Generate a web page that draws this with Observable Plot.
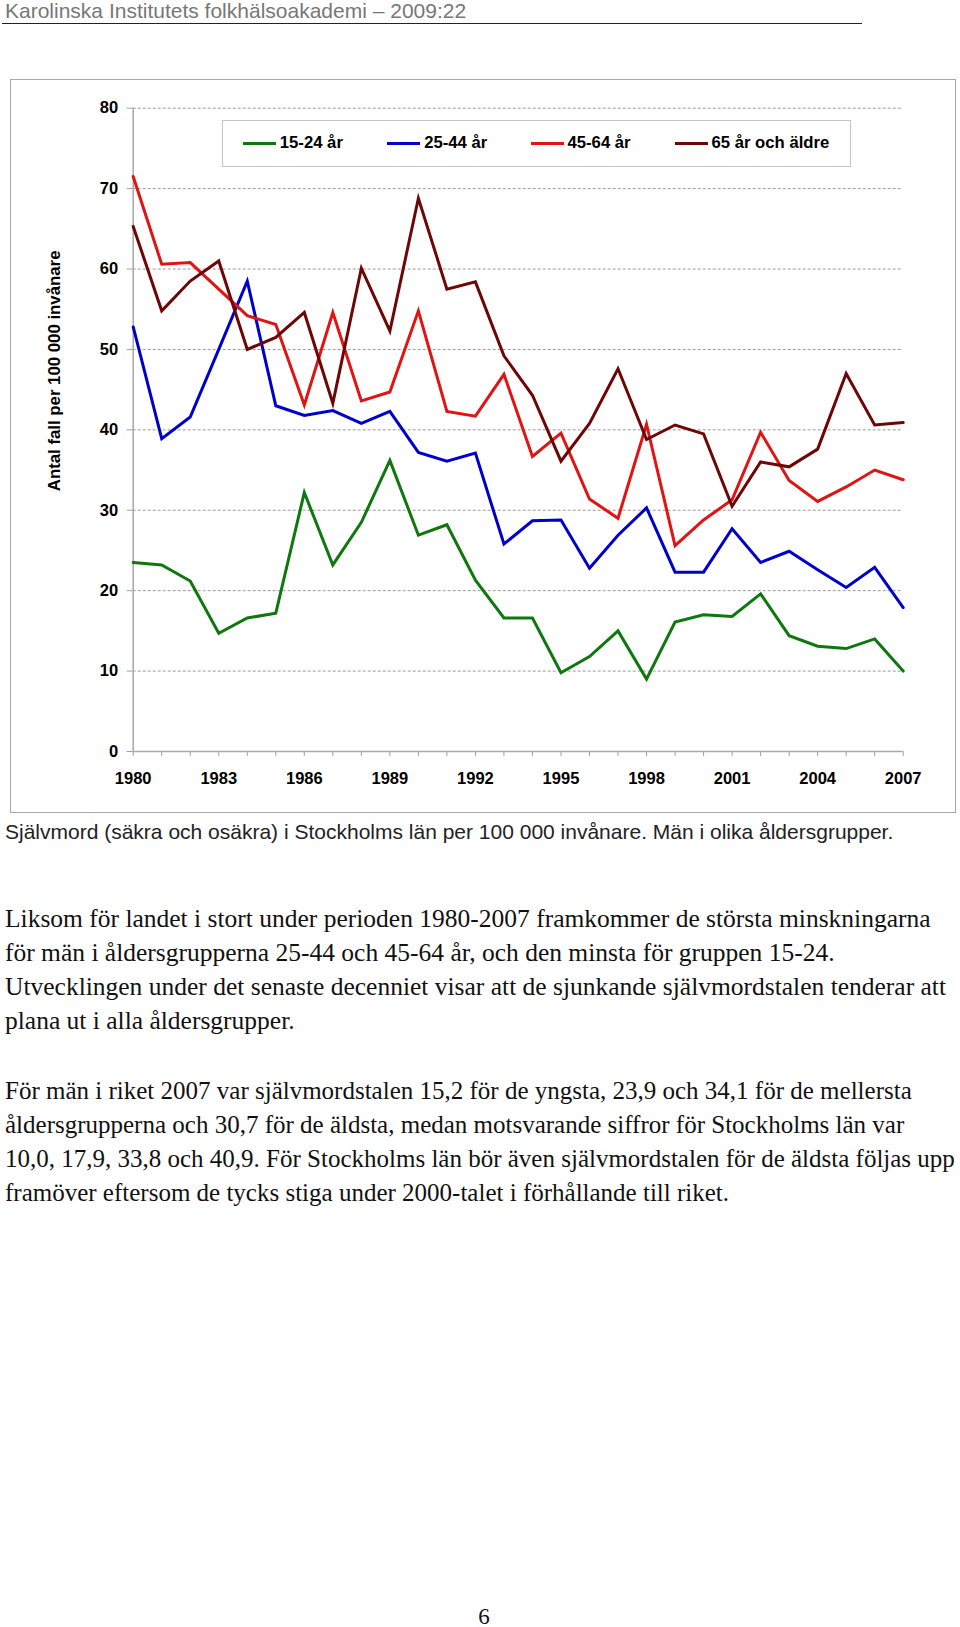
<!DOCTYPE html>
<html>
<head>
<meta charset="utf-8">
<script src="https://cdn.jsdelivr.net/npm/d3@7"></script>
<script src="https://cdn.jsdelivr.net/npm/@observablehq/plot@0.6"></script>
<style>
  html, body { margin: 0; padding: 0; background: #fff; }
  body { width: 960px; height: 1627px; position: relative; overflow: hidden; }
  .abs { position: absolute; }
  #header { left: 5px; top: -1px; font-family: "Liberation Sans", Arial, sans-serif; font-size: 21px; line-height: 24px; color: #777; white-space: nowrap; }
  #rule { left: 2px; top: 22.5px; width: 860px; height: 0; border-top: 1.5px solid #222; }
  #box { left: 10px; top: 79px; width: 944px; height: 732px; border: 1.5px solid #a8a8a8; pointer-events: none; }
  #chart { left: 0; top: 0; }
  #legend { left: 222px; top: 119.5px; width: 627px; height: 45px; border: 1.5px solid #c4c4c4; background: #fff; }
  .lg { position: absolute; top: 0; height: 45px; display: flex; align-items: center; font-family: "Liberation Sans", Arial, sans-serif; font-weight: bold; font-size: 16.7px; color: #000; white-space: nowrap; }
  .sw { display: inline-block; width: 33px; height: 3px; margin-right: 4px; }
  #caption { left: 5px; top: 820px; font-family: "Liberation Sans", Arial, sans-serif; font-size: 21px; line-height: 24px; color: #222; white-space: nowrap; }
  .para { left: 5px; font-family: "Liberation Serif", "Times New Roman", serif; line-height: 34.2px; color: #111; white-space: nowrap; }
  #p1 { top: 901.6px; font-size: 25.5px; }
  #p2 { top: 1073.8px; font-size: 25px; }
  #page { left: 0; width: 968px; text-align: center; top: 1604px; font-family: "Liberation Serif", serif; font-size: 23px; line-height: 26px; color: #111; }
</style>
</head>
<body>
<div id="header" class="abs">Karolinska Institutets folkhälsoakademi – 2009:22</div>
<div id="rule" class="abs"></div>
<div id="chart" class="abs"></div>
<div id="box" class="abs"></div>
<div id="legend" class="abs"></div>
<div id="caption" class="abs">Självmord (säkra och osäkra) i Stockholms län per 100 000 invånare. Män i olika åldersgrupper.</div>
<div id="p1" class="abs para">Liksom för landet i stort under perioden 1980-2007 framkommer de största minskningarna<br>för män i åldersgrupperna 25-44 och 45-64 år, och den minsta för gruppen 15-24.<br>Utvecklingen under det senaste decenniet visar att de sjunkande självmordstalen tenderar att<br>plana ut i alla åldersgrupper.</div>
<div id="p2" class="abs para">För män i riket 2007 var självmordstalen 15,2 för de yngsta, 23,9 och 34,1 för de mellersta<br>åldersgrupperna och 30,7 för de äldsta, medan motsvarande siffror för Stockholms län var<br>10,0, 17,9, 33,8 och 40,9. För Stockholms län bör även självmordstalen för de äldsta följas upp<br>framöver eftersom de tycks stiga under 2000-talet i förhållande till riket.</div>
<div id="page" class="abs">6</div>
<script>
// ---- data ----
const years = [1980,1981,1982,1983,1984,1985,1986,1987,1988,1989,1990,1991,1992,1993,1994,1995,1996,1997,1998,1999,2000,2001,2002,2003,2004,2005,2006,2007];
const seriesNames = ["15-24 år", "25-44 år", "45-64 år", "65 år och äldre"];
const seriesColors = ["#0e770e", "#0000cc", "#e11414", "#6e0606"];
const age15_24 = [23.5,23.2,21.2,14.7,16.6,17.2,32.2,23.2,28.5,36.2,26.9,28.2,21.3,16.6,16.6,9.8,11.8,15.0,9.0,16.1,17.0,16.8,19.6,14.4,13.1,12.8,14.0,10.0];
const age25_44 = [52.8,38.9,41.6,50.0,58.5,43.0,41.8,42.4,40.8,42.3,37.2,36.1,37.1,25.8,28.7,28.8,22.8,26.9,30.3,22.3,22.3,27.7,23.5,24.9,22.6,20.4,22.9,17.9];
const age45_64 = [71.5,60.6,60.8,57.5,54.2,53.1,43.1,54.6,43.6,44.7,54.8,42.3,41.7,46.9,36.7,39.6,31.4,29.0,40.7,25.6,28.8,31.3,39.7,33.7,31.1,32.9,35.0,33.8];
const age65plus = [65.3,54.8,58.5,61.0,50.0,51.5,54.6,43.3,60.1,52.3,68.8,57.5,58.4,49.2,44.3,36.1,40.8,47.6,38.8,40.6,39.5,30.5,36.0,35.4,37.6,47.0,40.6,40.9];
const yTicks = [0,10,20,30,40,50,60,70,80];
const xLabelYears = [1980,1983,1986,1989,1992,1995,1998,2001,2004,2007];
const yLabel = "Antal fall per 100 000 invånare";

const seriesValues = [age15_24, age25_44, age45_64, age65plus];
const table = [];
seriesNames.forEach((name, i) => {
  years.forEach((yr, j) => table.push({series: name, year: yr, value: seriesValues[i][j]}));
});

const chart = Plot.plot({
  width: 960,
  height: 820,
  marginLeft: 132.7,
  marginRight: 57.3,
  marginTop: 107.7,
  marginBottom: 69,
  style: {fontFamily: "'Liberation Sans', Arial, sans-serif", fontSize: "16.5px", fontWeight: "bold", color: "#000", background: "transparent", overflow: "visible"},
  x: {domain: [1980, 2007], label: null},
  y: {domain: [0, 80], label: null},
  color: {domain: seriesNames, range: seriesColors},
  marks: [
    Plot.gridY(yTicks, {stroke: "#9a9a9a", strokeOpacity: 1, strokeWidth: 1, strokeDasharray: "3,2"}),
    Plot.axisY(yTicks, {tickSize: 6, tickPadding: 9, stroke: "#a0a0a0", fill: "#000", tickFormat: d => String(d), label: null}),
    Plot.axisX(years, {tickSize: 5, stroke: "#a0a0a0", tickFormat: () => "", label: null}),
    Plot.axisX(xLabelYears, {tickSize: 0, tickPadding: 21, fill: "#000", tickFormat: d => String(d), label: null}),
    Plot.ruleX([1980], {y1: 0, y2: 80, stroke: "#a8a8a8", strokeWidth: 1.5}),
    Plot.ruleY([0], {x1: 1980, x2: 2007, stroke: "#a8a8a8", strokeWidth: 1.5}),
    Plot.line(table, {x: "year", y: "value", z: "series", stroke: "series", strokeWidth: 3, strokeLinejoin: "miter", strokeMiterlimit: 4}),
    Plot.text([yLabel], {frameAnchor: "left", rotate: -90, dx: -79, dy: -59, fontSize: 16.8, fontWeight: "bold", fill: "#000", textAnchor: "middle"})
  ]
});
document.getElementById("chart").appendChild(chart);

// legend built from the series arrays
const legend = document.getElementById("legend");
const legendLeft = [19.8, 164.2, 307.5, 451.5];
seriesNames.forEach((name, i) => {
  const item = document.createElement("div");
  item.className = "lg";
  item.style.left = legendLeft[i] + "px";
  const sw = document.createElement("span");
  sw.className = "sw";
  sw.style.background = seriesColors[i];
  item.appendChild(sw);
  item.appendChild(document.createTextNode(name));
  legend.appendChild(item);
});
</script>
</body>
</html>
